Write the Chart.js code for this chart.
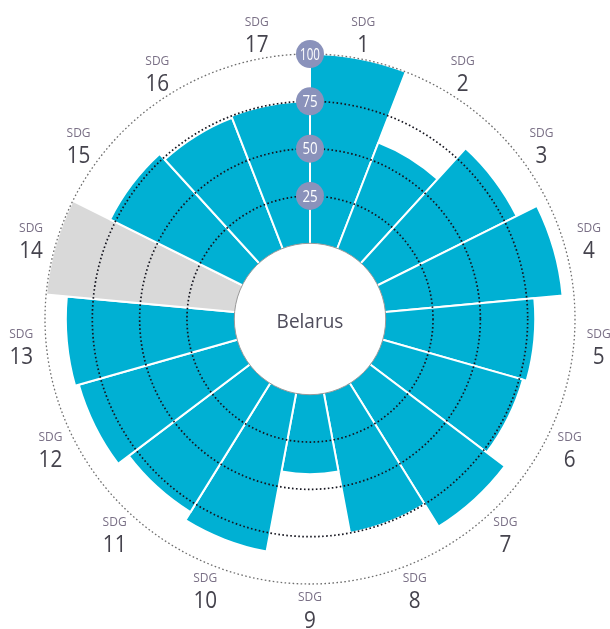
<!DOCTYPE html>
<html>
<head>
<meta charset="utf-8">
<script src="https://cdn.jsdelivr.net/npm/chart.js@4/dist/chart.umd.min.js"></script>
<style>
  html, body { margin: 0; padding: 0; background: #ffffff; }
  #wrap { width: 610px; height: 629px; position: relative; }
</style>
</head>
<body>
<div id="wrap"><canvas id="c"></canvas></div>
<script>
// ---- data ----
const categories = ['1','2','3','4','5','6','7','8','9','10','11','12','13','14','15','16','17'];
const categoryPrefix = 'SDG';
// SDG index scores (null = no data, drawn as a full grey segment)
const scores = [100, 60, 82, 94, 79, 77, 89, 75, 42, 85, 80, 87, 89, null, 78, 74, 75];
const ringTicks = [25, 50, 75, 100];
const centerLabel = 'Belarus';
const scaleMax = 100;
const scaleMin = -40;   // leaves the central hole

const barColor = '#00b0d3';
const noDataColor = '#d9d9d9';

const displayValues = scores.map(v => v == null ? scaleMax : v);
const barColors = scores.map(v => v == null ? noDataColor : barColor);

const FONT = "'Open Sans', 'DejaVu Sans', sans-serif";

const overlay = {
  id: 'overlay',
  afterDatasetsDraw(chart) {
    const ctx = chart.ctx;
    const r = chart.scales.r;
    const cx = r.xCenter, cy = r.yCenter;
    ctx.save();
    // dotted rings
    ringTicks.forEach(t => {
      const rad = r.getDistanceFromCenterForValue(t);
      ctx.beginPath();
      ctx.setLineDash([1.6, 2.4]);
      ctx.lineWidth = t === scaleMax ? 1.3 : 1.7;
      ctx.strokeStyle = t === scaleMax ? '#6e6e6e' : '#15151f';
      ctx.arc(cx, cy, rad, 0, Math.PI * 2);
      ctx.stroke();
    });
    ctx.setLineDash([]);
    // central hole
    const r0 = r.getDistanceFromCenterForValue(0);
    ctx.beginPath();
    ctx.arc(cx, cy, r0, 0, Math.PI * 2);
    ctx.fillStyle = '#ffffff';
    ctx.fill();
    ctx.lineWidth = 1;
    ctx.strokeStyle = '#9a9a9a';
    ctx.stroke();
    ctx.fillStyle = '#4f4d5c';
    ctx.font = '20px ' + FONT;
    ctx.textAlign = 'center';
    ctx.textBaseline = 'middle';
    ctx.save();
    ctx.translate(cx, cy + 3);
    ctx.scale(0.95, 1);
    ctx.fillText(centerLabel, 0, 0);
    ctx.restore();
    // tick badges along the top
    ringTicks.forEach(t => {
      const rad = r.getDistanceFromCenterForValue(t);
      const y = cy - rad;
      ctx.beginPath();
      ctx.arc(cx, y, 14, 0, Math.PI * 2);
      ctx.fillStyle = '#8a92bb';
      ctx.fill();
      ctx.fillStyle = '#ffffff';
      ctx.font = '17px ' + FONT;
      ctx.textAlign = 'center';
      ctx.textBaseline = 'middle';
      ctx.save();
      ctx.translate(cx, y + 1);
      ctx.scale(t === scaleMax ? 0.68 : 0.78, 1);
      ctx.fillText(String(t), 0, 0);
      ctx.restore();
    });
    // category labels
    const n = categories.length;
    const labelR = r.getDistanceFromCenterForValue(scaleMax) + 25;
    categories.forEach((c, i) => {
      const a = -Math.PI / 2 + (i + 0.5) * 2 * Math.PI / n;
      const x = cx + labelR * Math.cos(a);
      const y = cy + labelR * Math.sin(a);
      ctx.textAlign = 'center';
      ctx.textBaseline = 'middle';
      ctx.fillStyle = '#7a7086';
      ctx.font = '12px ' + FONT;
      ctx.fillText(categoryPrefix, x, y - 11);
      ctx.fillStyle = '#45434d';
      ctx.font = '23px ' + FONT;
      ctx.save();
      ctx.translate(x, y + 12);
      ctx.scale(0.9, 1);
      ctx.fillText(c, 0, 0);
      ctx.restore();
    });
    ctx.restore();
  }
};

new Chart(document.getElementById('c'), {
  type: 'polarArea',
  data: {
    labels: categories.map(c => categoryPrefix + ' ' + c),
    datasets: [{
      data: displayValues,
      backgroundColor: barColors,
      borderColor: '#ffffff',
      borderWidth: 2
    }]
  },
  options: {
    responsive: true,
    maintainAspectRatio: false,
    animation: false,
    layout: { padding: { left: 45, right: 35, top: 54, bottom: 45 } },
    plugins: { legend: { display: false }, tooltip: { enabled: false } },
    scales: {
      r: {
        min: scaleMin,
        max: scaleMax,
        startAngle: 0,
        ticks: { display: false },
        grid: { display: false },
        angleLines: { display: false },
        pointLabels: { display: false }
      }
    }
  },
  plugins: [overlay]
});
</script>
</body>
</html>
